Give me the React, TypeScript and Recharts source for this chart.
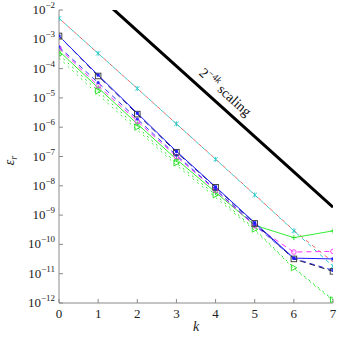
import React from "react";
import { LineChart, Line, XAxis, YAxis, ReferenceDot } from "recharts";

const ks = [0, 1, 2, 3, 4, 5, 6, 7];
const scaling = [5e-1, 3.1e-2, 1.95e-3, 1.22e-4, 7.6e-6, 4.77e-7, 2.98e-8, 1.86e-9];
const cyanErr = [5.2e-3, 3.3e-4, 2.1e-5, 1.3e-6, 8.0e-8, 4.9e-9, 2.9e-10, 1.8e-11];
const redErr = [5.2e-3, 3.3e-4, 2.1e-5, 1.3e-6, 8.2e-8, 5.0e-9, 3.0e-10, 2.5e-11];
const squareErr = [1.3e-3, 5.6e-5, 2.8e-6, 1.4e-7, 8.9e-9, 5.2e-10, 3.2e-11, 1.2e-11];
const blueSolid = [1.3e-3, 6.0e-5, 3.0e-6, 1.5e-7, 9.2e-9, 5.5e-10, 3.4e-11, 3.2e-11];
const blueDashed = [5.5e-4, 3.3e-5, 1.9e-6, 1.1e-7, 7.5e-9, 4.6e-10, 3.3e-11, 1.3e-11];
const magentaErr = [5.0e-4, 2.6e-5, 1.6e-6, 1.0e-7, 7.0e-9, 4.3e-10, 5.5e-11, 5.8e-11];
const greenSolid = [4.0e-4, 2.2e-5, 1.3e-6, 8.0e-8, 6.0e-9, 4.5e-10, 1.7e-10, 2.9e-10];
const greenTri = [3.0e-4, 1.7e-5, 1.0e-6, 6.0e-8, 4.9e-9, 3.3e-10, 1.6e-11, 1.3e-12];
const greenDot = [2.3e-4, 1.3e-5, 8.0e-7, 5.0e-8, 4.0e-9, 3.0e-10, 1.5e-11, 1.2e-12];
const yTicks = [1e-12, 1e-11, 1e-10, 1e-9, 1e-8, 1e-7, 1e-6, 1e-5, 1e-4, 1e-3, 1e-2];

const data = ks.map((k, i) => ({
  k,
  scaling: scaling[i],
  cyan: cyanErr[i],
  red: redErr[i],
  square: squareErr[i],
  blueS: blueSolid[i],
  blueD: blueDashed[i],
  magenta: magentaErr[i],
  greenS: greenSolid[i],
  greenT: greenTri[i],
  greenD: greenDot[i],
}));

const serif = "Liberation Serif, DejaVu Serif, serif";
const frame = "#8a8a8a";
const txt = { fontFamily: serif, fill: "#222" };

function LeftTick({ x, y, payload }: any) {
  const e = Math.round(Math.log10(payload.value));
  return (
    <g>
      <line x1={x} x2={x + 4} y1={y} y2={y} stroke={frame} />
      <text x={x - 4} y={y + 4} textAnchor="end" style={{ ...txt, fontSize: 13 }}>
        10
        <tspan dy={-6} style={{ fontSize: 9 }}>{`\u2212${-e}`}</tspan>
      </text>
    </g>
  );
}

function RightTick({ x, y }: any) {
  return <line x1={x - 4} x2={x} y1={y} y2={y} stroke={frame} />;
}

function BottomTick({ x, y, payload }: any) {
  return (
    <g>
      <line x1={x} x2={x} y1={y} y2={y - 4} stroke={frame} />
      <text x={x} y={y + 15} textAnchor="middle" style={{ ...txt, fontSize: 13 }}>
        {payload.value}
      </text>
    </g>
  );
}

function TopTick({ x, y }: any) {
  return <line x1={x} x2={x} y1={y} y2={y + 4} stroke={frame} />;
}

const squareDot = (p: any) =>
  <rect key={p.index} x={p.cx - 2.8} y={p.cy - 2.8} width={5.6} height={5.6} fill="none" stroke="#333" strokeWidth={0.9} />;
const blueSquareDot = (p: any) =>
  <rect key={p.index} x={p.cx - 1.5} y={p.cy - 1.5} width={3} height={3} fill="#1a1aff" stroke="none" />;
const blueCircleDot = (p: any) =>
  <circle key={p.index} cx={p.cx} cy={p.cy} r={1.6} fill="#3333ff" stroke="none" />;
const magentaDot = (p: any) =>
  <circle key={p.index} cx={p.cx} cy={p.cy} r={2.3} fill="none" stroke="#ff33ff" strokeWidth={0.9} />;
const plusDot = (p: any) => (
  <g key={p.index} stroke="#22dd22" strokeWidth={0.9}>
    <line x1={p.cx - 2.5} x2={p.cx + 2.5} y1={p.cy} y2={p.cy} />
    <line x1={p.cx} x2={p.cx} y1={p.cy - 2.5} y2={p.cy + 2.5} />
  </g>
);
const triDot = (p: any) => (
  <polygon
    key={p.index}
    points={`${p.cx - 2.5},${p.cy - 3} ${p.cx + 3},${p.cy} ${p.cx - 2.5},${p.cy + 3}`}
    fill="none"
    stroke="#22dd22"
    strokeWidth={0.9}
  />
);
const starDot = (p: any) => (
  <g key={p.index} stroke="#22cccc" strokeWidth={0.9}>
    <line x1={p.cx - 2.2} x2={p.cx + 2.2} y1={p.cy - 2.2} y2={p.cy + 2.2} />
    <line x1={p.cx - 2.2} x2={p.cx + 2.2} y1={p.cy + 2.2} y2={p.cy - 2.2} />
    <line x1={p.cx} x2={p.cx} y1={p.cy - 2.5} y2={p.cy + 2.5} />
  </g>
);

const scalingLabel = (props: any) => {
  const vb = props.viewBox || {};
  const cx = (vb.x || 0) + (vb.width || 0) / 2;
  const cy = (vb.y || 0) + (vb.height || 0) / 2;
  return (
    <text
      x={cx}
      y={cy}
      textAnchor="middle"
      transform={`rotate(42 ${cx} ${cy})`}
      style={{ ...txt, fontSize: 14, fill: "#111" }}
    >
      2
      <tspan dy={-6} style={{ fontSize: 9.5 }}>
        {"\u22124"}
        <tspan style={{ fontStyle: "italic" }}>k</tspan>
      </tspan>
      <tspan dy={6}>{"\u00a0scaling"}</tspan>
    </text>
  );
};

const yLabel = (props: any) => {
  const vb = props.viewBox || {};
  const x = 14;
  const y = (vb.y || 0) + (vb.height || 0) / 2 + 4;
  return (
    <text x={x} y={y} transform={`rotate(-90 ${x} ${y})`} textAnchor="middle" style={{ ...txt, fontSize: 14 }}>
      <tspan style={{ fontStyle: "italic" }}>ε</tspan>
      <tspan dy={3} style={{ fontSize: 10, fontStyle: "italic" }}>r</tspan>
    </text>
  );
};

const xLabel = (props: any) => {
  const vb = props.viewBox || {};
  const x = (vb.x || 0) + (vb.width || 0) / 2;
  return (
    <text x={x} y={331} textAnchor="middle" style={{ ...txt, fontSize: 14, fontStyle: "italic" }}>
      k
    </text>
  );
};

export default function App() {
  return (
    <div style={{ position: "absolute", left: 0, top: 0, background: "#fff" }}>
      <LineChart width={339} height={339} data={data} margin={{ top: 10, right: 6, bottom: 0, left: 0 }}>
        <XAxis
          dataKey="k"
          type="number"
          domain={[0, 7]}
          ticks={ks}
          allowDataOverflow
          height={36}
          tickSize={0}
          tickMargin={0}
          tickLine={false}
          stroke={frame}
          tick={<BottomTick />}
          label={{ content: xLabel }}
        />
        <XAxis
          xAxisId="top"
          orientation="top"
          dataKey="k"
          type="number"
          domain={[0, 7]}
          ticks={ks}
          allowDataOverflow
          height={0}
          tickSize={0}
          tickMargin={0}
          tickLine={false}
          stroke={frame}
          tick={<TopTick />}
        />
        <YAxis
          scale="log"
          type="number"
          domain={[1e-12, 1e-2]}
          ticks={yTicks}
          allowDataOverflow
          width={59}
          tickSize={0}
          tickMargin={0}
          tickLine={false}
          stroke={frame}
          tick={<LeftTick />}
          label={{ content: yLabel }}
        />
        <YAxis
          yAxisId="right"
          orientation="right"
          scale="log"
          type="number"
          domain={[1e-12, 1e-2]}
          ticks={yTicks}
          allowDataOverflow
          width={0}
          tickSize={0}
          tickMargin={0}
          tickLine={false}
          stroke={frame}
          tick={<RightTick />}
        />

        <Line dataKey="scaling" stroke="#000" strokeWidth={3} dot={false} isAnimationActive={false} />
        <Line dataKey="red" stroke="#ee6666" strokeWidth={1} strokeDasharray="4 4" strokeDashoffset={4} dot={false} isAnimationActive={false} />
        <Line dataKey="cyan" stroke="#33cccc" strokeWidth={1} strokeDasharray="4 4" dot={starDot} isAnimationActive={false} />
        <Line dataKey="greenD" stroke="#44ee44" strokeWidth={1} strokeDasharray="2 4" dot={false} isAnimationActive={false} />
        <Line dataKey="greenT" stroke="#22dd22" strokeWidth={1} strokeDasharray="2 4" dot={triDot} isAnimationActive={false} />
        <Line dataKey="greenS" stroke="#33ee33" strokeWidth={1} dot={plusDot} isAnimationActive={false} />
        <Line dataKey="magenta" stroke="#ff33ff" strokeWidth={1} strokeDasharray="5 4" dot={magentaDot} isAnimationActive={false} />
        <Line dataKey="blueD" stroke="#3333ff" strokeWidth={1} strokeDasharray="5 4" dot={blueCircleDot} isAnimationActive={false} />
        <Line dataKey="square" stroke="#1a1a55" strokeWidth={1} strokeDasharray="6 4" dot={squareDot} isAnimationActive={false} />
        <Line dataKey="blueS" stroke="#1a1aff" strokeWidth={1} dot={blueSquareDot} isAnimationActive={false} />

        <ReferenceDot x={4.17} y={1.2e-5} r={0} fill="none" stroke="none" label={{ content: scalingLabel }} />
      </LineChart>
    </div>
  );
}
